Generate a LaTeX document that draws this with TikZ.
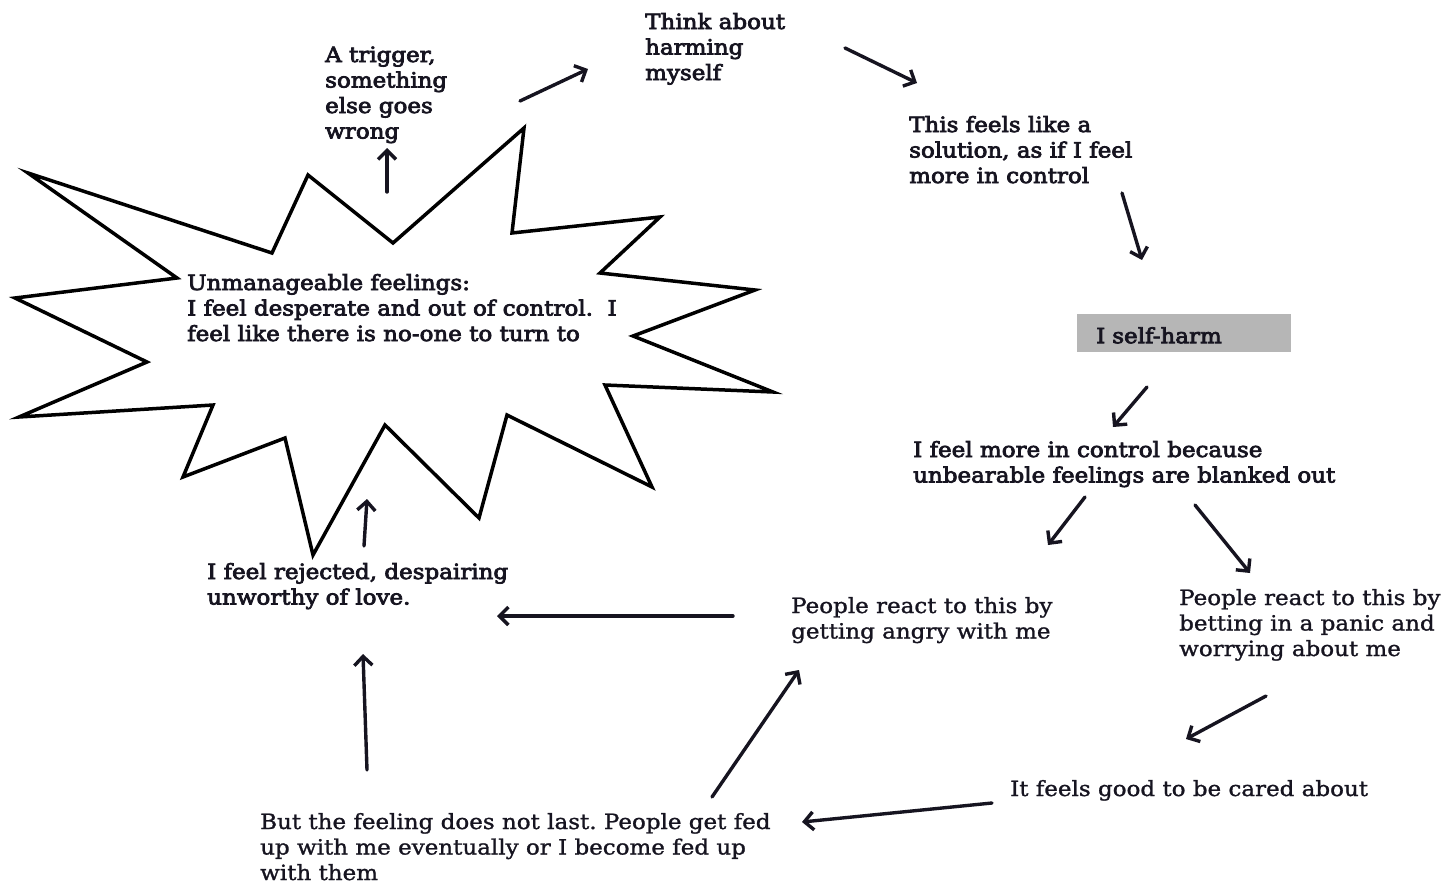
\documentclass[tikz,border=0pt]{standalone}
\usepackage{fontspec}
\setmainfont{DejaVu Serif}
\newfontfamily\heavyserif[FakeBold=3.5,FakeStretch=1.095]{DejaVu Serif}
\newfontfamily\lightserif[FakeBold=1.2,FakeStretch=1.095]{DejaVu Serif}
\usetikzlibrary{arrows.meta}

\definecolor{ink}{RGB}{22,20,32}
\definecolor{boxgray}{RGB}{182,182,182}

% text block whose baseline is the baseline of its first line
\newcommand\blk[1]{\begin{tabular}[t]{@{}l@{}}#1\end{tabular}}

\tikzset{
  lbl/.style={anchor=base west, inner sep=0pt, text=ink,
    font={\heavyserif\fontsize{21}{25.5}\selectfont\frenchspacing}},
  lbllight/.style={lbl, font={\lightserif\fontsize{21}{25.5}\selectfont\frenchspacing}},
  harmbox/.style={anchor=north west, fill=boxgray, inner xsep=19pt, inner ysep=0pt,
    minimum width=214pt, minimum height=38pt, text width=176pt, align=left,
    text height=20pt, text depth=0pt, text=ink,
    font={\heavyserif\fontsize{21}{25.5}\selectfont}},
  flow/.style={draw=ink, line width=3.4pt, line cap=round,
    -{Straight Barb[length=9pt,width=18pt,line join=miter]}},
  burst/.style={draw=black, line width=3.5pt, line join=miter, fill=white},
}

\begin{document}
\begin{tikzpicture}[x=1pt,y=-1pt]
\useasboundingbox (0,0) rectangle (1448,884);
\fill[white] (0,0) rectangle (1448,884);

% the jagged burst round the central feeling
\draw[burst] (28,173) -- (272,253) -- (308,175) -- (393,243) -- (524,128)
  -- (512,233) -- (660,217) -- (600,273) -- (755,290) -- (633,336)
  -- (773,392) -- (605,385) -- (652,487) -- (507,415) -- (479,518)
  -- (385,425) -- (313,555) -- (285,438) -- (183,477) -- (213,405)
  -- (19,417) -- (147,362) -- (15,298) -- (177,278) -- cycle;

% statements
\node[lbl] (feel) at (187,290) {\blk{Unmanageable feelings:\\I feel desperate and out of control.~~I\\feel like there is no-one to turn to}};
\node[lbl] (trigger) at (325,62) {\blk{A trigger,\\something\\else goes\\wrong}};
\node[lbl] (think) at (645,29) {\blk{Think about\\harming\\myself}};
\node[lbl] (solution) at (909,132) {\blk{This feels like a\\solution, as if I feel\\more in control}};
\node[harmbox] (harm) at (1077,314) {I self-harm};
\node[lbl] (control) at (913,457) {\blk{I feel more in control because\\unbearable feelings are blanked out}};
\node[lbl] (rejected) at (207,579) {\blk{I feel rejected, despairing\\unworthy of love.}};
\node[lbllight] (angry) at (791,613) {\blk{People react to this by\\getting angry with me}};
\node[lbllight] (panic) at (1179,605) {\blk{People react to this by\\betting in a panic and\\worrying about me}};
\node[lbllight] (cared) at (1010,796) {It feels good to be cared about};
\node[lbllight] (fedup) at (260,829) {\blk{But the feeling does not last. People get fed\\up with me eventually or I become fed up\\with them}};

% arrow ends
\coordinate (feel-out)     at (387,192);  \coordinate (trigger-in)  at (387,148);
\coordinate (trigger-out)  at (520,101);  \coordinate (think-in)    at (588,69);
\coordinate (think-out)    at (845,48);   \coordinate (solution-in) at (917,83);
\coordinate (solution-out) at (1122,193); \coordinate (harm-in)     at (1142,260);
\coordinate (harm-out)     at (1147,387); \coordinate (control-in)  at (1113,427);
\coordinate (control-outa) at (1085,497); \coordinate (angry-in)    at (1048,545);
\coordinate (control-outb) at (1195,505); \coordinate (panic-in)    at (1250,573);
\coordinate (angry-out)    at (733,616);  \coordinate (rejected-ina) at (497,616);
\coordinate (panic-out)    at (1266,696); \coordinate (cared-in)    at (1186,739);
\coordinate (cared-out)    at (992,803);  \coordinate (fedup-in)    at (802,822);
\coordinate (fedup-outa)   at (712,797);  \coordinate (angry-inb)   at (799,670);
\coordinate (fedup-outb)   at (367,770);  \coordinate (rejected-inb) at (363,654);
\coordinate (rejected-out) at (364,546);  \coordinate (feel-in)     at (367,499);

\draw[flow] (feel-out) -- (trigger-in);
\draw[flow] (trigger-out) -- (think-in);
\draw[flow] (think-out) -- (solution-in);
\draw[flow] (solution-out) -- (harm-in);
\draw[flow] (harm-out) -- (control-in);
\draw[flow] (control-outa) -- (angry-in);
\draw[flow] (control-outb) -- (panic-in);
\draw[flow] (angry-out) -- (rejected-ina);
\draw[flow] (panic-out) -- (cared-in);
\draw[flow] (cared-out) -- (fedup-in);
\draw[flow] (fedup-outa) -- (angry-inb);
\draw[flow] (fedup-outb) -- (rejected-inb);
\draw[flow] (rejected-out) -- (feel-in);
\end{tikzpicture}
\end{document}
